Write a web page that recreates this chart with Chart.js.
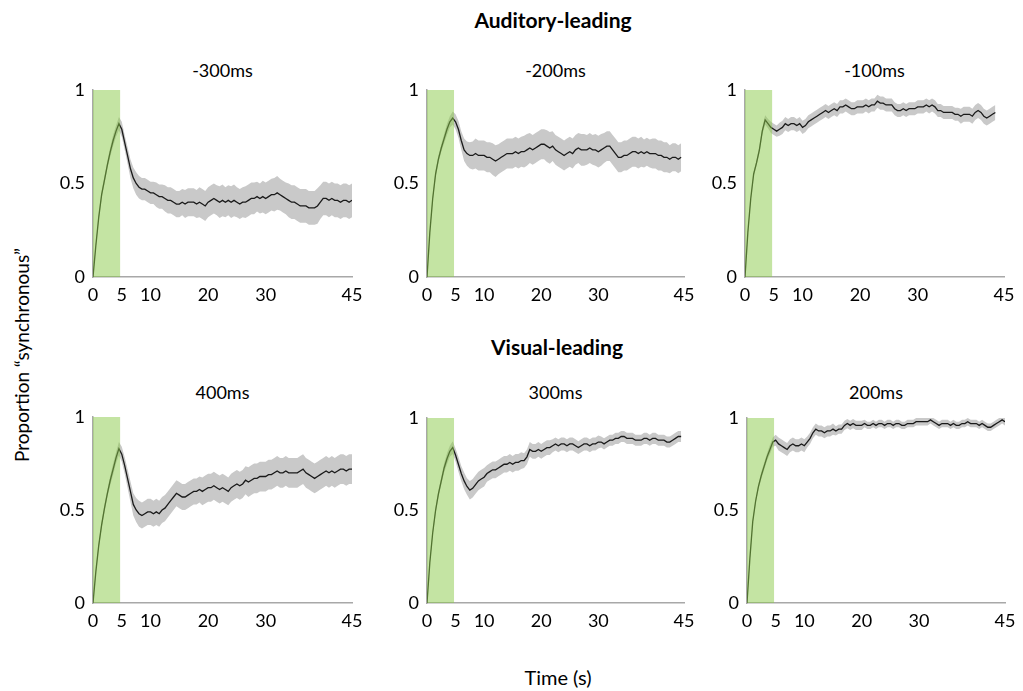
<!DOCTYPE html>
<html>
<head>
<meta charset="utf-8">
<script src="https://cdn.jsdelivr.net/npm/chart.js@4.4.0/dist/chart.umd.min.js"></script>
<style>
  body { margin: 0; background: #fff; width: 1023px; height: 691px; position: relative; overflow: hidden; font-family: Lato, "Open Sans", sans-serif; color: #000; }
  canvas { position: absolute; }
  .txt { position: absolute; text-align: center; white-space: nowrap; line-height: 24px; }
  .cab { font-weight: bold; font-size: 21px; }
  .tit { font-size: 18px; }
  .eixo { font-size: 19px; }
</style>
</head>
<body>

<div class="txt cab" style="left:353px; top:8px; width:400px;">Auditory-leading</div>
<div class="txt cab" style="left:357px; top:335px; width:400px;">Visual-leading</div>

<div class="txt tit" style="left:93px; top:58px; width:259px;">-300ms</div>
<div class="txt tit" style="left:427px; top:58px; width:257px;">-200ms</div>
<div class="txt tit" style="left:745px; top:58px; width:259px;">-100ms</div>
<div class="txt tit" style="left:93px; top:380px; width:259px;">400ms</div>
<div class="txt tit" style="left:427px; top:380px; width:257px;">300ms</div>
<div class="txt tit" style="left:747px; top:380px; width:258px;">200ms</div>

<div class="txt eixo" style="left:-88px; top:343px; width:220px; transform:rotate(-90deg);">Proportion “synchronous”</div>
<div class="txt eixo" style="left:458px; top:665px; width:200px; font-size:20px;">Time (s)</div>

<script>

// eixo do tempo (s), passo de 0.5
const tempos = [
  0, 0.5, 1, 1.5, 2, 2.5, 3, 3.5, 4, 4.5, 5,
  5.5, 6, 6.5, 7, 7.5, 8, 8.5, 9, 9.5, 10,
  10.5, 11, 11.5, 12, 12.5, 13, 13.5, 14, 14.5, 15,
  15.5, 16, 16.5, 17, 17.5, 18, 18.5, 19, 19.5, 20,
  20.5, 21, 21.5, 22, 22.5, 23, 23.5, 24, 24.5, 25,
  25.5, 26, 26.5, 27, 27.5, 28, 28.5, 29, 29.5, 30,
  30.5, 31, 31.5, 32, 32.5, 33, 33.5, 34, 34.5, 35,
  35.5, 36, 36.5, 37, 37.5, 38, 38.5, 39, 39.5, 40,
  40.5, 41, 41.5, 42, 42.5, 43, 43.5, 44, 44.5, 45
];

const xTicks = [0, 5, 10, 20, 30, 45];
const yTicks = [0, 0.5, 1];
const fimEstimulo = 4.75;   // faixa verde 0 -> ~5s

const titulos = ["-300ms", "-200ms", "-100ms", "400ms", "300ms", "200ms"];

// media de cada condicao
const mediaA300 = [
  0, 0.17, 0.32, 0.44, 0.52, 0.60, 0.67, 0.73, 0.78, 0.82, 0.79,
  0.72, 0.65, 0.58, 0.53, 0.50, 0.48, 0.47, 0.47, 0.46, 0.45,
  0.45, 0.44, 0.43, 0.43, 0.42, 0.41, 0.41, 0.40, 0.39, 0.39,
  0.40, 0.39, 0.40, 0.40, 0.40, 0.39, 0.40, 0.39, 0.38, 0.40,
  0.41, 0.42, 0.41, 0.40, 0.41, 0.40, 0.41, 0.40, 0.41, 0.40,
  0.39, 0.40, 0.40, 0.41, 0.42, 0.42, 0.43, 0.42, 0.43, 0.42,
  0.43, 0.44, 0.44, 0.45, 0.44, 0.43, 0.42, 0.41, 0.40, 0.40,
  0.39, 0.38, 0.38, 0.38, 0.37, 0.37, 0.37, 0.38, 0.40, 0.42,
  0.42, 0.41, 0.42, 0.41, 0.41, 0.40, 0.41, 0.41, 0.40, 0.41
];
const mediaA200 = [
  0, 0.24, 0.42, 0.55, 0.63, 0.69, 0.74, 0.79, 0.83, 0.85, 0.83,
  0.79, 0.73, 0.68, 0.66, 0.65, 0.65, 0.66, 0.65, 0.65, 0.65,
  0.64, 0.64, 0.63, 0.62, 0.63, 0.64, 0.65, 0.66, 0.66, 0.66,
  0.67, 0.66, 0.67, 0.67, 0.68, 0.69, 0.68, 0.69, 0.70, 0.71,
  0.71, 0.70, 0.69, 0.70, 0.68, 0.67, 0.66, 0.65, 0.66, 0.67,
  0.66, 0.68, 0.69, 0.68, 0.68, 0.68, 0.69, 0.68, 0.68, 0.67,
  0.68, 0.69, 0.70, 0.70, 0.68, 0.66, 0.64, 0.64, 0.65, 0.65,
  0.66, 0.67, 0.67, 0.66, 0.67, 0.66, 0.67, 0.66, 0.66, 0.66,
  0.65, 0.65, 0.64, 0.64, 0.63, 0.64, 0.64, 0.63, 0.64
];
const mediaA100 = [
  0, 0.24, 0.42, 0.55, 0.61, 0.68, 0.78, 0.84, 0.82, 0.80, 0.79,
  0.78, 0.79, 0.80, 0.82, 0.81, 0.82, 0.82, 0.81, 0.82, 0.80,
  0.81, 0.83, 0.84, 0.85, 0.86, 0.87, 0.88, 0.89, 0.88, 0.89,
  0.90, 0.89, 0.91, 0.91, 0.92, 0.91, 0.90, 0.90, 0.91, 0.91,
  0.91, 0.92, 0.91, 0.92, 0.92, 0.94, 0.93, 0.93, 0.92, 0.92,
  0.92, 0.90, 0.89, 0.89, 0.90, 0.89, 0.90, 0.90, 0.90, 0.91,
  0.91, 0.91, 0.92, 0.91, 0.92, 0.91, 0.89, 0.89, 0.88, 0.88,
  0.88, 0.88, 0.87, 0.87, 0.86, 0.87, 0.87, 0.87, 0.86, 0.88,
  0.89, 0.88, 0.86, 0.85, 0.86, 0.87, 0.88
];
const mediaV400 = [
  0, 0.17, 0.31, 0.42, 0.51, 0.59, 0.66, 0.72, 0.78, 0.83, 0.80,
  0.74, 0.67, 0.60, 0.53, 0.50, 0.48, 0.47, 0.48, 0.49, 0.49,
  0.48, 0.49, 0.48, 0.50, 0.51, 0.53, 0.55, 0.57, 0.59, 0.58,
  0.57, 0.57, 0.58, 0.59, 0.60, 0.60, 0.61, 0.60, 0.61, 0.62,
  0.62, 0.63, 0.62, 0.61, 0.62, 0.61, 0.60, 0.62, 0.63, 0.64,
  0.63, 0.64, 0.66, 0.65, 0.66, 0.67, 0.67, 0.68, 0.68, 0.68,
  0.69, 0.69, 0.70, 0.71, 0.70, 0.70, 0.71, 0.70, 0.70, 0.70,
  0.70, 0.71, 0.72, 0.70, 0.69, 0.68, 0.67, 0.68, 0.69, 0.70,
  0.71, 0.70, 0.71, 0.70, 0.71, 0.72, 0.72, 0.71, 0.72, 0.72
];
const mediaV300 = [
  0, 0.22, 0.38, 0.50, 0.59, 0.66, 0.73, 0.78, 0.82, 0.84, 0.80,
  0.75, 0.70, 0.66, 0.63, 0.61, 0.62, 0.64, 0.66, 0.67, 0.68,
  0.70, 0.71, 0.72, 0.72, 0.73, 0.74, 0.75, 0.75, 0.76, 0.75,
  0.76, 0.76, 0.77, 0.77, 0.79, 0.83, 0.82, 0.82, 0.83, 0.82,
  0.83, 0.84, 0.84, 0.85, 0.86, 0.85, 0.86, 0.86, 0.85, 0.86,
  0.86, 0.85, 0.84, 0.85, 0.86, 0.86, 0.85, 0.86, 0.86, 0.87,
  0.87, 0.86, 0.87, 0.88, 0.88, 0.89, 0.89, 0.90, 0.90, 0.89,
  0.89, 0.89, 0.88, 0.88, 0.88, 0.89, 0.89, 0.88, 0.89, 0.89,
  0.88, 0.88, 0.88, 0.87, 0.87, 0.88, 0.89, 0.90, 0.90
];
const mediaV200 = [
  0, 0.24, 0.44, 0.55, 0.63, 0.69, 0.74, 0.79, 0.83, 0.87, 0.88,
  0.86, 0.85, 0.84, 0.83, 0.85, 0.86, 0.85, 0.85, 0.86, 0.85,
  0.87, 0.89, 0.92, 0.94, 0.93, 0.93, 0.92, 0.93, 0.93, 0.94,
  0.93, 0.94, 0.94, 0.96, 0.97, 0.96, 0.97, 0.96, 0.96, 0.96,
  0.97, 0.96, 0.96, 0.97, 0.96, 0.97, 0.97, 0.96, 0.97, 0.97,
  0.96, 0.97, 0.97, 0.96, 0.96, 0.97, 0.97, 0.97, 0.98, 0.98,
  0.98, 0.98, 0.98, 0.99, 0.98, 0.97, 0.96, 0.97, 0.97, 0.97,
  0.96, 0.97, 0.96, 0.96, 0.97, 0.97, 0.98, 0.97, 0.97, 0.97,
  0.96, 0.97, 0.96, 0.95, 0.95, 0.96, 0.97, 0.98, 0.99, 0.98
];

// erro padrao (largura da faixa cinza)
const dpA300 = [
  0, 0.01, 0.015, 0.02, 0.02, 0.02, 0.025, 0.03, 0.03, 0.035, 0.04,
  0.04, 0.045, 0.05, 0.055, 0.06, 0.06, 0.06, 0.06, 0.06, 0.06,
  0.06, 0.065, 0.065, 0.065, 0.07, 0.07, 0.07, 0.07, 0.07, 0.07,
  0.07, 0.075, 0.075, 0.075, 0.075, 0.075, 0.08, 0.08, 0.08, 0.08,
  0.08, 0.08, 0.08, 0.085, 0.085, 0.08, 0.08, 0.085, 0.085, 0.08,
  0.08, 0.08, 0.085, 0.085, 0.085, 0.085, 0.08, 0.08, 0.085, 0.085,
  0.085, 0.085, 0.09, 0.09, 0.085, 0.085, 0.085, 0.09, 0.09, 0.09,
  0.09, 0.09, 0.09, 0.09, 0.09, 0.09, 0.09, 0.095, 0.09, 0.09,
  0.09, 0.09, 0.09, 0.09, 0.09, 0.09, 0.09, 0.09, 0.09, 0.09
];
const dpA200 = [
  0, 0.01, 0.015, 0.02, 0.02, 0.02, 0.025, 0.03, 0.03, 0.035, 0.04,
  0.045, 0.05, 0.06, 0.065, 0.07, 0.075, 0.08, 0.08, 0.08, 0.08,
  0.08, 0.08, 0.085, 0.085, 0.08, 0.08, 0.08, 0.08, 0.08, 0.08,
  0.08, 0.08, 0.08, 0.085, 0.085, 0.08, 0.08, 0.08, 0.08, 0.08,
  0.08, 0.085, 0.085, 0.08, 0.08, 0.08, 0.08, 0.08, 0.08, 0.08,
  0.08, 0.08, 0.08, 0.085, 0.085, 0.08, 0.08, 0.08, 0.085, 0.085,
  0.085, 0.08, 0.08, 0.08, 0.08, 0.08, 0.08, 0.08, 0.08, 0.08,
  0.08, 0.08, 0.08, 0.08, 0.08, 0.075, 0.075, 0.075, 0.08, 0.08,
  0.08, 0.08, 0.08, 0.08, 0.075, 0.075, 0.075, 0.075, 0.075
];
const dpA100 = [
  0, 0.01, 0.01, 0.015, 0.015, 0.02, 0.02, 0.025, 0.025, 0.03, 0.03,
  0.03, 0.035, 0.035, 0.035, 0.035, 0.035, 0.035, 0.035, 0.035, 0.035,
  0.035, 0.035, 0.035, 0.035, 0.035, 0.035, 0.035, 0.035, 0.035, 0.035,
  0.035, 0.035, 0.035, 0.035, 0.035, 0.035, 0.035, 0.035, 0.035, 0.035,
  0.035, 0.035, 0.035, 0.035, 0.035, 0.035, 0.035, 0.035, 0.035, 0.035,
  0.035, 0.035, 0.035, 0.035, 0.035, 0.035, 0.035, 0.035, 0.035, 0.035,
  0.035, 0.035, 0.035, 0.035, 0.035, 0.035, 0.035, 0.035, 0.035, 0.035,
  0.035, 0.035, 0.035, 0.035, 0.04, 0.04, 0.04, 0.04, 0.04, 0.04,
  0.04, 0.04, 0.04, 0.04, 0.04, 0.04, 0.04
];
const dpV400 = [
  0, 0.01, 0.015, 0.02, 0.02, 0.02, 0.025, 0.03, 0.03, 0.035, 0.04,
  0.045, 0.05, 0.055, 0.06, 0.065, 0.07, 0.07, 0.07, 0.07, 0.07,
  0.07, 0.07, 0.07, 0.07, 0.07, 0.07, 0.07, 0.07, 0.07, 0.07,
  0.07, 0.07, 0.07, 0.07, 0.07, 0.07, 0.07, 0.075, 0.075, 0.075,
  0.075, 0.075, 0.075, 0.075, 0.075, 0.075, 0.075, 0.075, 0.075, 0.075,
  0.075, 0.075, 0.075, 0.08, 0.08, 0.08, 0.08, 0.08, 0.08, 0.08,
  0.08, 0.08, 0.08, 0.08, 0.08, 0.08, 0.08, 0.08, 0.08, 0.08,
  0.08, 0.08, 0.08, 0.08, 0.08, 0.08, 0.08, 0.08, 0.08, 0.08,
  0.08, 0.08, 0.08, 0.08, 0.08, 0.08, 0.08, 0.08, 0.08, 0.08
];
const dpV300 = [
  0, 0.01, 0.015, 0.02, 0.02, 0.02, 0.025, 0.03, 0.03, 0.035, 0.035,
  0.04, 0.04, 0.045, 0.045, 0.05, 0.05, 0.05, 0.05, 0.05, 0.05,
  0.045, 0.045, 0.045, 0.045, 0.045, 0.045, 0.045, 0.045, 0.045, 0.045,
  0.045, 0.045, 0.045, 0.04, 0.04, 0.04, 0.04, 0.04, 0.04, 0.04,
  0.04, 0.04, 0.04, 0.035, 0.035, 0.035, 0.035, 0.035, 0.035, 0.035,
  0.035, 0.035, 0.035, 0.035, 0.035, 0.035, 0.035, 0.035, 0.035, 0.035,
  0.03, 0.03, 0.03, 0.03, 0.03, 0.03, 0.03, 0.03, 0.03, 0.03,
  0.03, 0.03, 0.03, 0.03, 0.03, 0.03, 0.03, 0.03, 0.03, 0.03,
  0.03, 0.03, 0.03, 0.03, 0.03, 0.03, 0.03, 0.03, 0.03
];
const dpV200 = [
  0, 0.01, 0.01, 0.015, 0.015, 0.02, 0.02, 0.02, 0.025, 0.025, 0.03,
  0.035, 0.035, 0.035, 0.035, 0.035, 0.035, 0.035, 0.035, 0.035, 0.035,
  0.03, 0.03, 0.03, 0.03, 0.03, 0.03, 0.03, 0.03, 0.03, 0.03,
  0.025, 0.025, 0.025, 0.025, 0.025, 0.025, 0.025, 0.025, 0.025, 0.025,
  0.02, 0.02, 0.02, 0.02, 0.02, 0.02, 0.02, 0.02, 0.02, 0.02,
  0.02, 0.02, 0.02, 0.02, 0.02, 0.02, 0.02, 0.02, 0.02, 0.02,
  0.02, 0.02, 0.02, 0.02, 0.02, 0.02, 0.02, 0.02, 0.02, 0.02,
  0.02, 0.02, 0.02, 0.02, 0.02, 0.02, 0.02, 0.02, 0.02, 0.02,
  0.02, 0.02, 0.02, 0.02, 0.02, 0.02, 0.02, 0.02, 0.02, 0.02
];

// posicao da area de plotagem de cada painel (px)
const paineis = [
  { media: mediaA300, dp: dpA300, l: 93,  t: 90,  w: 259, h: 187 },
  { media: mediaA200, dp: dpA200, l: 427, t: 90,  w: 257, h: 187 },
  { media: mediaA100, dp: dpA100, l: 745, t: 90,  w: 259, h: 187 },
  { media: mediaV400, dp: dpV400, l: 93,  t: 417, w: 259, h: 186 },
  { media: mediaV300, dp: dpV300, l: 427, t: 418, w: 257, h: 185 },
  { media: mediaV200, dp: dpV200, l: 747, t: 418, w: 258, h: 185 }
];

// margens fixas do canvas (maiores que o padding que o Chart.js pede)
const EIXO_Y = 50, TOPO = 22, DIREITA = 20, EIXO_X = 34;
const fonteTick = { family: "Lato", size: 18 };

function criarPainel(p) {
  const canvas = document.createElement("canvas");
  canvas.width = EIXO_Y + p.w + DIREITA;
  canvas.height = TOPO + p.h + EIXO_X;
  canvas.style.left = (p.l - EIXO_Y) + "px";
  canvas.style.top = (p.t - TOPO) + "px";
  document.body.appendChild(canvas);

  const linha = p.media.map((v, i) => ({ x: tempos[i], y: v }));
  const sup = p.media.map((v, i) => ({ x: tempos[i], y: v + p.dp[i] }));
  const inf = p.media.map((v, i) => ({ x: tempos[i], y: v - p.dp[i] }));

  new Chart(canvas, {
    type: "line",
    data: {
      datasets: [
        // faixa verde (fica por cima)
        { data: [{ x: 0, y: 1 }, { x: fimEstimulo, y: 1 }], fill: "origin",
          backgroundColor: "rgba(137,201,71,0.5)", borderWidth: 0, pointRadius: 0 },
        { data: linha, borderColor: "#1a1a1a", borderWidth: 1.3, pointRadius: 0, fill: false },
        { data: sup, borderWidth: 0, pointRadius: 0, fill: "+1", backgroundColor: "#c9c9c9" },
        { data: inf, borderWidth: 0, pointRadius: 0, fill: false }
      ]
    },
    options: {
      responsive: false,
      animation: false,
      events: [],
      layout: { padding: { top: TOPO, right: DIREITA, left: 0, bottom: 0 } },
      plugins: { legend: { display: false }, tooltip: { enabled: false } },
      scales: {
        x: {
          type: "linear", min: 0, max: 45,
          afterBuildTicks: s => { s.ticks = xTicks.map(v => ({ value: v })); },
          afterFit: s => { s.height = EIXO_X; s.paddingLeft = 0; s.paddingRight = 0; },
          grid: { display: false, drawTicks: false },
          border: { color: "#a8a8a8", width: 1.5 },
          ticks: { font: fonteTick, color: "#000", padding: 7, autoSkip: false, maxRotation: 0 }
        },
        y: {
          min: 0, max: 1,
          afterBuildTicks: s => { s.ticks = yTicks.map(v => ({ value: v })); },
          afterFit: s => { s.width = EIXO_Y; s.paddingTop = 0; s.paddingBottom = 0; },
          grid: { display: false, drawTicks: false },
          border: { color: "#a8a8a8", width: 1.5 },
          ticks: { font: fonteTick, color: "#000", padding: 8, callback: v => String(v) }
        }
      }
    }
  });
}

paineis.forEach(criarPainel);
</script>
</body>
</html>
